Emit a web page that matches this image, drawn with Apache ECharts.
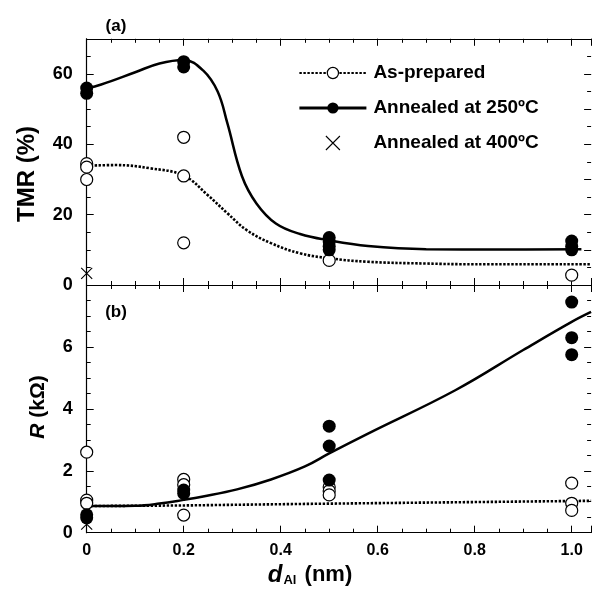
<!DOCTYPE html>
<html>
<head>
<meta charset="utf-8">
<script src="https://cdn.jsdelivr.net/npm/echarts@6/dist/echarts.min.js"></script>
<style>
  html, body { margin: 0; padding: 0; background: #fff; }
  #chart { width: 592px; height: 595px; }
</style>
</head>
<body>
<div id="chart"></div>
<script>
// ---- Panel (a): TMR (%) versus Al thickness ----
const tmrAsPrepared = [[0, 34.5], [0, 33.5], [0, 30], [0.2, 42], [0.2, 31], [0.2, 12], [0.5, 7], [1.0, 2.8]];
const tmrAnneal250 = [[0, 56], [0, 54.5], [0.2, 63.5], [0.2, 62], [0.5, 13.5], [0.5, 12.3], [0.5, 11], [0.5, 10],
  [1.0, 12.5], [1.0, 11], [1.0, 10]];
const tmrAnneal400 = [[0, 3.3]];
const tmrCurveAsPrepared = [[0, 33.9], [0.06, 34.1], [0.13, 33.2], [0.2, 31.1], [0.25, 25.5],
  [0.29, 20.4], [0.33, 15.6], [0.38, 11.9], [0.44, 9], [0.5, 7.6], [0.58, 6.6], [0.7, 6.1], [0.8, 5.9], [1.04, 5.9]];
const tmrCurveAnneal250 = [[0, 55.9], [0.03, 57], [0.1, 60.5], [0.15, 63], [0.2, 64], [0.24, 61], [0.27, 55],
  [0.29, 46], [0.32, 31], [0.35, 23.2], [0.39, 17.5], [0.44, 14.5], [0.5, 12.7], [0.58, 11.1],
  [0.7, 10.2], [0.85, 10.1], [1.02, 10.2]];

// ---- Panel (b): R (kΩ) versus Al thickness ----
const rAsPrepared = [[0, 2.6], [0, 1.05], [0, 0.95], [0.2, 1.72], [0.2, 1.55], [0.2, 0.57], [0.5, 1.48],
  [0.5, 1.35], [0.5, 1.22], [1.0, 1.6], [1.0, 0.95], [1.0, 0.72]];
const rAnneal250 = [[0, 0.58], [0, 0.48], [0.2, 1.38], [0.2, 1.27], [0.5, 3.44], [0.5, 2.8], [0.5, 1.7],
  [1.0, 7.45], [1.0, 6.3], [1.0, 5.75]];
const rAnneal400 = [[0, 0.28], [0.2, 1.45]];
const rCurveAsPrepared = [[0, 0.86], [0.2, 0.88], [0.45, 0.93], [1.04, 1.03]];
const rCurveAnneal250 = [[0, 0.86], [0.1, 0.87], [0.15, 0.94], [0.2, 1.06], [0.24, 1.17], [0.31, 1.4],
  [0.38, 1.72], [0.45, 2.14], [0.5, 2.56], [0.58, 3.2], [0.76, 4.6], [0.9, 5.9], [1.0, 6.81], [1.04, 7.13]];

// ---- Axis ticks and labels ----
const xTickValues = [0, 0.2, 0.4, 0.6, 0.8, 1.0];
const xTickLabels = ['0', '0.2', '0.4', '0.6', '0.8', '1.0'];
const tmrTickValues = [0, 20, 40, 60];
const tmrTickLabels = ['0', '20', '40', '60'];
const rTickValues = [0, 2, 4, 6];
const rTickLabels = ['0', '2', '4', '6'];

const seriesNames = ['As-prepared', 'Annealed at 250ºC', 'Annealed at 400ºC'];

const FONT = 'Liberation Sans';
const X_MAX = 1.04;

function labelFor(values, labels) {
  return function (v) {
    for (let i = 0; i < values.length; i++) {
      if (Math.abs(values[i] - v) < 1e-6) return labels[i];
    }
    return '';
  };
}

const chart = echarts.init(document.getElementById('chart'), null, { renderer: 'canvas' });

const lineBlack = { show: true, onZero: false, lineStyle: { color: '#000', width: 1.2 } };
const noLine = { show: false, onZero: false };

function xAxisPair(gridIndex, position, withLabels, showLine) {
  const major = {
    type: 'value', gridIndex, position, min: 0, max: X_MAX, interval: 0.2,
    axisLine: showLine ? lineBlack : noLine,
    axisTick: { show: true, inside: true, length: 7, lineStyle: { color: '#000', width: 1 } },
    axisLabel: withLabels ? {
      show: true, margin: 10, color: '#000', fontFamily: FONT, fontWeight: 'bold', fontSize: 16,
      formatter: labelFor(xTickValues, xTickLabels)
    } : { show: false },
    splitLine: { show: false }
  };
  const minor = {
    type: 'value', gridIndex, position, min: 0, max: X_MAX, interval: 0.05,
    axisLine: noLine,
    axisTick: { show: true, inside: true, length: 4, lineStyle: { color: '#000', width: 1 } },
    axisLabel: { show: false },
    splitLine: { show: false }
  };
  return [major, minor];
}

function yAxisPair(gridIndex, position, max, majorStep, minorStep, values, labels, showLine) {
  const major = {
    type: 'value', gridIndex, position, min: 0, max, interval: majorStep,
    axisLine: showLine ? lineBlack : noLine,
    axisTick: { show: true, inside: true, length: 7, lineStyle: { color: '#000', width: 1 } },
    axisLabel: values ? {
      show: true, margin: 14, color: '#000', fontFamily: FONT, fontWeight: 'bold', fontSize: 18,
      formatter: labelFor(values, labels)
    } : { show: false },
    splitLine: { show: false }
  };
  const minor = {
    type: 'value', gridIndex, position, min: 0, max, interval: minorStep,
    axisLine: noLine,
    axisTick: { show: true, inside: true, length: 4, lineStyle: { color: '#000', width: 1 } },
    axisLabel: { show: false },
    splitLine: { show: false }
  };
  return [major, minor];
}

const xAxes = [
  ...xAxisPair(0, 'bottom', false, true),   // 0,1
  ...xAxisPair(0, 'top', false, true),      // 2,3
  ...xAxisPair(1, 'bottom', true, true),    // 4,5
  ...xAxisPair(1, 'top', false, true)       // 6,7
];
const yAxes = [
  ...yAxisPair(0, 'left', 70, 20, 5, tmrTickValues, tmrTickLabels, true),  // 0,1
  ...yAxisPair(0, 'right', 70, 10, 5, null, null, false),                  // 2,3
  ...yAxisPair(1, 'left', 8, 2, 0.5, rTickValues, rTickLabels, true),      // 4,5
  ...yAxisPair(1, 'right', 8, 2, 0.5, null, null, false)                   // 6,7
];

const openCircle = { color: '#fff', borderColor: '#000', borderWidth: 1.2, opacity: 1 };
const filledCircle = { color: '#000', borderColor: '#000', borderWidth: 0, opacity: 1 };
const crossStyle = { color: 'none', borderColor: '#000', borderWidth: 1.1, opacity: 1 };
const crossPath = 'path://M0,0 L10,10 M10,0 L0,10';
const dottedStyle = { color: '#000', width: 2.6, type: [2.4, 1.6], cap: 'butt' };
const solidStyle = { color: '#000', width: 2.5, type: 'solid' };

function curve(name, data, xi, yi, lineStyle, itemStyle, smooth) {
  return {
    name, type: 'line', xAxisIndex: xi, yAxisIndex: yi, data,
    smooth, showSymbol: false, symbol: 'circle',
    lineStyle, itemStyle, silent: true, z: 2
  };
}
function points(name, data, xi, yi, symbol, size, itemStyle, z) {
  return {
    name, type: 'scatter', xAxisIndex: xi, yAxisIndex: yi, data,
    symbol, symbolSize: size, itemStyle, silent: true, z
  };
}

const option = {
  animation: false,
  backgroundColor: '#fff',
  grid: [
    { left: 86.7, right: 0.9, top: 38.8, height: 246.2, containLabel: false, outerBoundsMode: 'none' },
    { left: 86.7, right: 0.9, top: 285, height: 247.7, containLabel: false, outerBoundsMode: 'none' }
  ],
  xAxis: xAxes,
  yAxis: yAxes,
  legend: {
    show: true,
    orient: 'vertical',
    left: 293,
    top: 58,
    itemWidth: 67,
    itemHeight: 14,
    itemGap: 15,
    selectedMode: false,
    textStyle: { color: '#000', fontFamily: FONT, fontWeight: 'bold', fontSize: 19, lineHeight: 20, padding: [0, 0, 0, 2] },
    data: [
      { name: seriesNames[0], itemStyle: { borderWidth: 1.2, opacity: 1 }, lineStyle: { width: 2.2 } },
      { name: seriesNames[1], itemStyle: { borderWidth: 0, opacity: 1 }, lineStyle: { width: 2.8 } },
      { name: seriesNames[2], itemStyle: { borderWidth: 1.1, opacity: 1 } }
    ]
  },
  series: [
    // panel (a) curves
    curve(seriesNames[0], tmrCurveAsPrepared, 0, 0, dottedStyle, openCircle, 0.4),
    curve(seriesNames[1], tmrCurveAnneal250, 0, 0, solidStyle, filledCircle, 0.4),
    // panel (a) measured points
    points(seriesNames[2], tmrAnneal400, 0, 0, crossPath, 11, crossStyle, 3),
    points(seriesNames[0], tmrAsPrepared, 0, 0, 'circle', 12, openCircle, 4),
    points(seriesNames[1], tmrAnneal250, 0, 0, 'circle', 13, filledCircle, 5),
    // panel (b) curves
    curve(seriesNames[0], rCurveAsPrepared, 4, 4, dottedStyle, openCircle, false),
    curve(seriesNames[1], rCurveAnneal250, 4, 4, solidStyle, filledCircle, 0.4),
    // panel (b) measured points
    points(seriesNames[2], rAnneal400, 4, 4, crossPath, 11, crossStyle, 3),
    points(seriesNames[0], rAsPrepared, 4, 4, 'circle', 12, openCircle, 4),
    points(seriesNames[1], rAnneal250, 4, 4, 'circle', 13, filledCircle, 5)
  ],
  graphic: [
    { type: 'text', x: 116, y: 26, style: { text: '(a)', font: 'bold 17px "Liberation Sans"', fill: '#000', align: 'center', verticalAlign: 'middle' } },
    { type: 'text', x: 116, y: 312, style: { text: '(b)', font: 'bold 17px "Liberation Sans"', fill: '#000', align: 'center', verticalAlign: 'middle' } },
    { type: 'text', x: 27, y: 174, rotation: Math.PI / 2,
      style: { text: 'TMR (%)', font: 'bold 24px "Liberation Sans"', fill: '#000', align: 'center', verticalAlign: 'middle' } },
    { type: 'text', x: 38, y: 407, rotation: Math.PI / 2,
      style: { text: '{i|R} (kΩ)', font: 'bold 21px "Liberation Sans"', fill: '#000', align: 'center', verticalAlign: 'middle',
        rich: { i: { font: 'italic bold 21px "Liberation Sans"', fill: '#000' } } } },
    { type: 'text', x: 310, y: 575,
      style: { text: '{i|d}{s|Al} (nm)', font: 'bold 22px "Liberation Sans"', fill: '#000', align: 'center', verticalAlign: 'middle',
        rich: {
          i: { font: 'italic bold 24px "Liberation Sans"', fill: '#000' },
          s: { font: 'bold 13px "Liberation Sans"', fill: '#000', verticalAlign: 'bottom', padding: [10, 2, 0, 1] }
        } } }
  ]
};

chart.setOption(option);
</script>
</body>
</html>
